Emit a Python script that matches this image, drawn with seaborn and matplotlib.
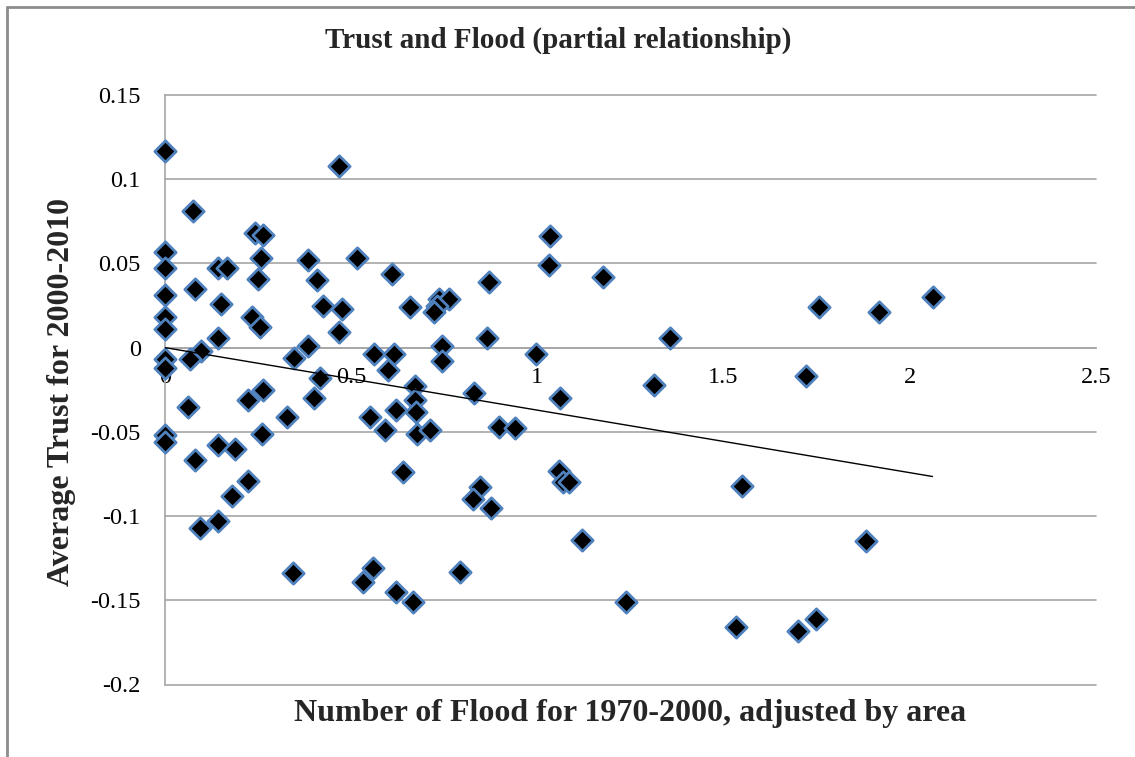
import matplotlib
matplotlib.use("Agg")
import matplotlib.pyplot as plt
from matplotlib.lines import Line2D
import seaborn as sns
import pandas as pd

# ---- data ----
flood = [0, 0, 0, 0, 0, 0, 0, 0, 0, 0,
         0.076, 0.468, 0.242, 0.264, 0.143, 0.166, 0.257, 0.385, 0.251, 0.408,
         0.081, 0.150, 0.423, 0.233, 0.254, 0.141, 0.466, 0.385, 0.347, 0.096,
         0.067, 0.415, 0.263, 0.224, 0.399, 0.063, 0.327, 0.260, 0.141, 0.188,
         0.081, 0.224, 0.179, 0.094, 0.141, 0.345, 0.515, 0.609, 0.869, 0.475,
         0.659, 0.735, 0.762, 0.730, 0.723, 0.865, 0.744, 0.744, 0.560, 0.614,
         0.600, 0.672, 0.672, 0.829, 0.551, 0.621, 0.675, 0.591, 0.677, 0.711,
         0.896, 0.941, 0.639, 0.845, 0.827, 0.876, 0.531, 0.558, 0.621, 0.666,
         0.793, 1.035, 1.030, 1.176, 1.355, 0.995, 1.313, 1.062, 1.057, 1.069,
         1.084, 1.550, 1.120, 1.237, 1.534, 1.756, 1.916, 2.061, 1.722, 1.882,
         1.701, 1.749]
trust = [0.117, 0.057, 0.047, 0.031, 0.018, 0.011, -0.007, -0.012, -0.052, -0.056,
         0.081, 0.108, 0.068, 0.067, 0.047, 0.047, 0.053, 0.052, 0.041, 0.040,
         0.035, 0.026, 0.025, 0.018, 0.012, 0.006, 0.009, 0.001, -0.006, -0.002,
         -0.007, -0.018, -0.025, -0.031, -0.030, -0.035, -0.041, -0.051, -0.058, -0.060,
         -0.067, -0.079, -0.088, -0.107, -0.103, -0.134, 0.053, 0.044, 0.039, 0.023,
         0.024, 0.029, 0.029, 0.025, 0.021, 0.006, 0.001, -0.008, -0.004, -0.004,
         -0.013, -0.023, -0.031, -0.027, -0.041, -0.037, -0.038, -0.049, -0.051, -0.049,
         -0.047, -0.048, -0.074, -0.083, -0.090, -0.095, -0.139, -0.131, -0.145, -0.151,
         -0.133, 0.066, 0.049, 0.042, 0.006, -0.004, -0.022, -0.030, -0.073, -0.080,
         -0.080, -0.082, -0.114, -0.151, -0.166, 0.024, 0.021, 0.030, -0.017, -0.115,
         -0.168, -0.161]

trend_x = [0.0, 2.061]
trend_y = [0.0, -0.0765]

x_ticks = [0, 0.5, 1, 1.5, 2, 2.5]
x_tick_labels = ["0", "0.5", "1", "1.5", "2", "2.5"]
y_ticks = [0.15, 0.1, 0.05, 0, -0.05, -0.1, -0.15, -0.2]
y_tick_labels = ["0.15", "0.1", "0.05", "0", "-0.05", "-0.1", "-0.15", "-0.2"]

title = "Trust and Flood (partial relationship)"
x_label = "Number of Flood for 1970-2000, adjusted by area"
y_label = "Average Trust for 2000-2010"

df = pd.DataFrame({"flood": flood, "trust": trust})

# ---- style ----
sns.set_style("white")
plt.rcParams["font.family"] = ["Liberation Serif", "DejaVu Serif"]

W, H = 1135, 757
fig = plt.figure(figsize=(W / 100, H / 100), dpi=100)
ax = fig.add_axes([165 / W, 1 - 684.5 / H, (1096 - 165) / W, (684.5 - 95) / H])

grid_color = "#A6A6A6"

sns.scatterplot(data=df, x="flood", y="trust", marker="D", s=118,
                color="black", edgecolor="#4F81BD", linewidth=2.0,
                ax=ax, zorder=3, legend=False, clip_on=False)
ax.plot(trend_x, trend_y, color="black", lw=1.0, zorder=4)

ax.set_xlim(0, 2.5)
ax.set_ylim(-0.2, 0.15)
ax.set_xticks(x_ticks)
ax.set_xticklabels(x_tick_labels)
ax.set_yticks(y_ticks)
ax.set_yticklabels(y_tick_labels)
ax.set_xlabel("")
ax.set_ylabel("")

ax.yaxis.grid(True, color=grid_color, lw=1.2)
ax.xaxis.grid(False)
for gl in ax.get_ygridlines():
    gl.set_clip_on(False)
ax.set_axisbelow(True)

for s in ["top", "right"]:
    ax.spines[s].set_visible(False)
ax.spines["left"].set_color(grid_color)
ax.spines["left"].set_linewidth(1.2)
ax.spines["bottom"].set_position(("data", 0))
ax.spines["bottom"].set_color(grid_color)
ax.spines["bottom"].set_linewidth(1.2)

ax.tick_params(axis="y", direction="out", length=6.5, width=1.0, color=grid_color,
               pad=11, labelsize=17.5, labelcolor="black")
ax.tick_params(axis="x", direction="out", length=6, width=1.0, color=grid_color,
               pad=8, labelsize=17.5, labelcolor="black")

fig.text(558 / W, 1 - 40 / H, title, ha="center", va="center",
         fontsize=21, fontweight="bold")
fig.text(630.5 / W, 1 - 713 / H, x_label, ha="center", va="center",
         fontsize=23, fontweight="bold")
fig.text(62 / W, 1 - 392 / H, y_label, ha="center", va="center",
         rotation=90, fontsize=23, fontweight="bold")

# outer chart frame (top & left visible)
frame_c = "#8C8C8C"
fig.add_artist(Line2D([7 / W, 7 / W], [0, 1 - 7 / H], transform=fig.transFigure,
                      color=frame_c, lw=2))
fig.add_artist(Line2D([7 / W, 1], [1 - 7 / H, 1 - 7 / H], transform=fig.transFigure,
                      color=frame_c, lw=2))

fig.savefig("out.png", dpi=100)
